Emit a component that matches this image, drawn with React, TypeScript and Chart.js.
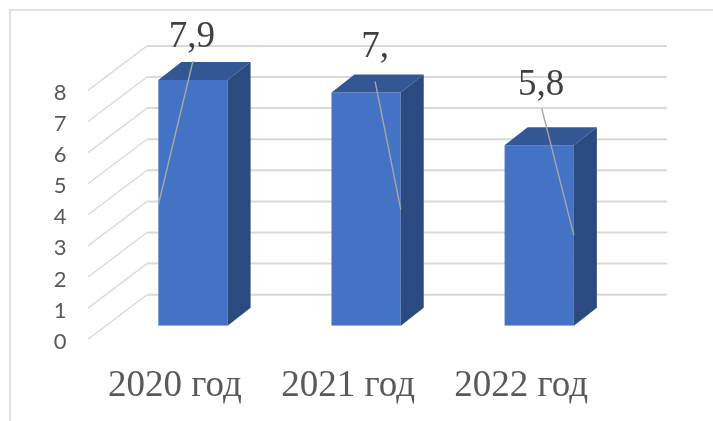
import React, { useEffect, useRef } from "react";
import { Chart, registerables } from "chart.js";

Chart.register(...registerables);

const categories = ["2020 год", "2021 год", "2022 год"];
const seriesValues = [7.9, 7.5, 5.8];
const dataLabels = ["7,9", "7,", "5,8"];
const yTicks = [0, 1, 2, 3, 4, 5, 6, 7, 8];

// Pseudo-3D look: offsets from the bar's front plane, in pixels.
const DEPTH_X = 23;
const DEPTH_Y = 18;
const WALL_X = 59;
const WALL_BACK_Y = 31;
const WALL_FRONT_Y = 13.5;
const GRID_RIGHT = 667;

// Label and leader placement relative to each bar (centre x, top y).
const labelPlacement = [
  { dx: -1, dy: -43, lineTopDx: 0, lineTopDy: -19, lineEndSide: -1, lineEndDy: 125 },
  { dx: 9, dy: -45, lineTopDx: 9, lineTopDy: -11, lineEndSide: 1, lineEndDy: 117 },
  { dx: 2, dy: -60, lineTopDx: 2.5, lineTopDy: -37, lineEndSide: 1, lineEndDy: 90 },
];

const decorate = {
  id: "decorate",
  beforeDatasetsDraw(chart: any) {
    const { ctx, scales } = chart;
    const y = scales.y;
    const area = chart.chartArea;
    ctx.save();
    ctx.strokeStyle = "#d9d9d9";
    ctx.lineWidth = 1.6;
    ctx.beginPath();
    ctx.moveTo(10, 421);
    ctx.lineTo(10, 10);
    ctx.lineTo(713, 10);
    ctx.stroke();
    const wallLeft = area.left - 18.4;
    yTicks.forEach((t) => {
      const py = y.getPixelForValue(t);
      ctx.lineWidth = 1.4;
      ctx.beginPath();
      ctx.moveTo(wallLeft, py + WALL_FRONT_Y);
      ctx.lineTo(wallLeft + WALL_X, py - WALL_BACK_Y);
      ctx.stroke();
      ctx.lineWidth = 2;
      ctx.beginPath();
      ctx.moveTo(wallLeft + WALL_X, py - WALL_BACK_Y);
      ctx.lineTo(GRID_RIGHT, py - WALL_BACK_Y);
      ctx.stroke();
    });
    ctx.restore();
  },
  afterDatasetsDraw(chart: any) {
    const { ctx } = chart;
    const bars = chart.getDatasetMeta(0).data;
    ctx.save();
    bars.forEach((bar: any) => {
      const half = bar.width / 2;
      const l = bar.x - half;
      const r = bar.x + half;
      const t = bar.y;
      const b = bar.base;
      ctx.fillStyle = "#335694";
      ctx.beginPath();
      ctx.moveTo(l, t);
      ctx.lineTo(l + DEPTH_X, t - DEPTH_Y);
      ctx.lineTo(r + DEPTH_X, t - DEPTH_Y);
      ctx.lineTo(r, t);
      ctx.closePath();
      ctx.fill();
      ctx.fillStyle = "#2b4a80";
      ctx.beginPath();
      ctx.moveTo(r, t);
      ctx.lineTo(r + DEPTH_X, t - DEPTH_Y);
      ctx.lineTo(r + DEPTH_X, b - DEPTH_Y);
      ctx.lineTo(r, b);
      ctx.closePath();
      ctx.fill();
    });
    bars.forEach((bar: any, i: number) => {
      const p = labelPlacement[i];
      const half = bar.width / 2;
      ctx.strokeStyle = "#a6a6a6";
      ctx.lineWidth = 1.4;
      ctx.beginPath();
      ctx.moveTo(bar.x + p.lineTopDx, bar.y + p.lineTopDy);
      ctx.lineTo(bar.x + p.lineEndSide * half, bar.y + p.lineEndDy);
      ctx.stroke();
      ctx.fillStyle = "#404040";
      ctx.font = '37px "Liberation Serif"';
      ctx.textAlign = "center";
      ctx.textBaseline = "middle";
      ctx.fillText(dataLabels[i], bar.x + p.dx, bar.y + p.dy);
    });
    ctx.restore();
  },
};

export default function App() {
  const ref = useRef<HTMLCanvasElement>(null);
  useEffect(() => {
    const chart = new Chart(ref.current!, {
      type: "bar",
      data: {
        labels: categories,
        datasets: [
          {
            data: seriesValues,
            backgroundColor: "#4472c4",
            borderWidth: 0,
            categoryPercentage: 1,
            barPercentage: 0.4,
          },
        ],
      },
      options: {
        responsive: false,
        animation: false,
        devicePixelRatio: 1,
        layout: { padding: { top: 76.9, right: 87.2, left: 0, bottom: 0 } },
        plugins: { legend: { display: false }, tooltip: { enabled: false } },
        scales: {
          x: {
            grid: { display: false },
            border: { display: false },
            afterFit(scale: any) {
              scale.height = 95.3;
            },
            ticks: {
              autoSkip: false,
              maxRotation: 0,
              minRotation: 0,
              padding: 30,
              labelOffset: -18,
              color: "#595959",
              font: { family: '"Liberation Serif"', size: 37 },
            },
          },
          y: {
            min: 0,
            max: 8,
            grid: { display: false },
            border: { display: false },
            afterFit(scale: any) {
              scale.width = 106.4;
            },
            ticks: {
              stepSize: 1,
              padding: 32,
              labelOffset: 16,
              color: "#595959",
              font: { family: "Lato", size: 22 },
            },
          },
        },
      },
      plugins: [decorate],
    } as any);
    return () => chart.destroy();
  }, []);
  return (
    <div style={{ position: "fixed", left: 0, top: 0, width: 713, height: 421, background: "#fff" }}>
      <canvas ref={ref} width={713} height={421} style={{ display: "block" }} />
    </div>
  );
}
